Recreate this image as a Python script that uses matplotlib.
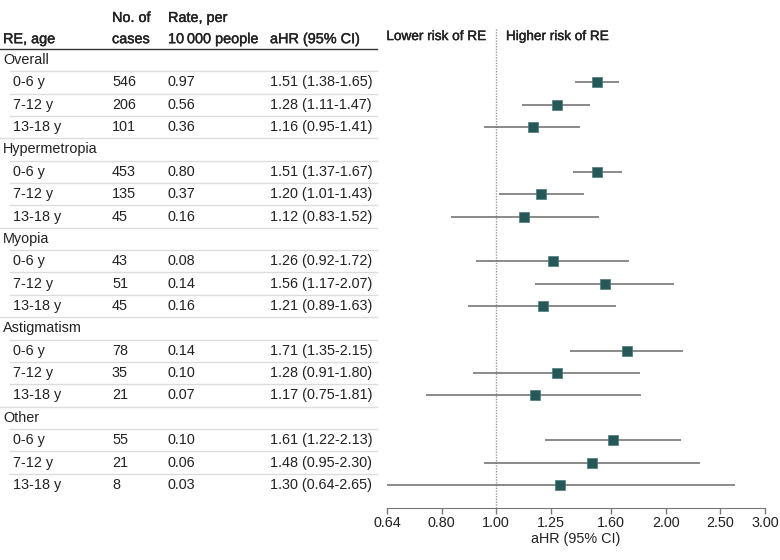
import matplotlib
matplotlib.use('Agg')
import matplotlib.pyplot as plt
import matplotlib.transforms as mtransforms
import matplotlib.patheffects as pe

plt.rcParams['font.family'] = ['Liberation Sans Narrow', 'Liberation Sans', 'DejaVu Sans']
plt.rcParams['font.size'] = 10.4

# groups and age bands
groups = ['Overall', 'Hypermetropia', 'Myopia', 'Astigmatism', 'Other']
ages = ['0-6 y', '7-12 y', '13-18 y']

cases = [[546, 206, 101],
         [453, 135, 45],
         [43, 51, 45],
         [78, 35, 21],
         [55, 21, 8]]
rates = [['0.97', '0.56', '0.36'],
         ['0.80', '0.37', '0.16'],
         ['0.08', '0.14', '0.16'],
         ['0.14', '0.10', '0.07'],
         ['0.10', '0.06', '0.03']]
ahr = [[1.51, 1.28, 1.16],
       [1.51, 1.20, 1.12],
       [1.26, 1.56, 1.21],
       [1.71, 1.28, 1.17],
       [1.61, 1.48, 1.30]]
ci_low = [[1.38, 1.11, 0.95],
          [1.37, 1.01, 0.83],
          [0.92, 1.17, 0.89],
          [1.35, 0.91, 0.75],
          [1.22, 0.95, 0.64]]
ci_high = [[1.65, 1.47, 1.41],
           [1.67, 1.43, 1.52],
           [1.72, 2.07, 1.63],
           [2.15, 1.80, 1.81],
           [2.13, 2.30, 2.65]]

xticks = [0.64, 0.80, 1.00, 1.25, 1.60, 2.00, 2.50, 3.00]

W, H = 780, 560
fig = plt.figure(figsize=(W / 100, H / 100), dpi=100)
ax = fig.add_axes([387 / W, 1 - 508 / H, (765 - 387) / W, (508 - 28) / H])

trans = mtransforms.blended_transform_factory(fig.transFigure, ax.transData)

def fx(px):
    return px / W

sq_color = '#255856'
line_color = '#6b6b6b'
sep_color = '#dcdcdc'
semi = [pe.withStroke(linewidth=0.3, foreground='#222222')]

row = 0
n_rows = len(groups) * 4
group_rows = []
for g, name in enumerate(groups):
    group_rows.append(row)
    ax.text(fx(3), row, name, transform=trans, va='center', ha='left', color='#222222')
    row += 1
    for a, age in enumerate(ages):
        ax.text(fx(13), row, age, transform=trans, va='center', ha='left', color='#222222')
        ax.text(fx(112), row, str(cases[g][a]), transform=trans, va='center', ha='left', color='#222222')
        ax.text(fx(168), row, rates[g][a], transform=trans, va='center', ha='left', color='#222222')
        label = f"{ahr[g][a]:.2f} ({ci_low[g][a]:.2f}-{ci_high[g][a]:.2f})"
        ax.text(fx(270), row, label, transform=trans, va='center', ha='left', color='#222222')
        ax.plot([ci_low[g][a], ci_high[g][a]], [row, row], color=line_color, lw=1.1,
                solid_capstyle='butt', zorder=2)
        ax.plot(ahr[g][a], row, marker='s', ms=7.5, color=sq_color,
                mec='#4d7d7b', mew=0.5, zorder=3)
        row += 1

# row separators (full width before a group label, indented otherwise)
for i in range(n_rows - 1):
    x0 = 0 if (i + 1) in group_rows else 10
    ax.plot([fx(x0), fx(377)], [i + 0.5, i + 0.5], transform=trans, color=sep_color,
            lw=1, clip_on=False, zorder=1)
# header rule
ax.plot([fx(0), fx(377)], [-0.5, -0.5], transform=trans, color='#333333',
        lw=1, clip_on=False, zorder=1)

# headers
h2 = -0.93
h1 = -1.88
hkw = dict(transform=trans, va='center', ha='left', fontsize=10.4, color='#222222',
           path_effects=semi)
ax.text(fx(3), h2, 'RE, age', **hkw)
ax.text(fx(112), h1, 'No. of', **hkw)
ax.text(fx(112), h2, 'cases', **hkw)
ax.text(fx(168), h1, 'Rate, per', **hkw)
ax.text(fx(168), h2, '10\u2009000 people', **hkw)
ax.text(fx(270), h2, 'aHR (95% CI)', **hkw)

ax.annotate('Lower risk of RE', xy=(1.0, -1.07), xytext=(-7, 0), fontsize=9.8,
            textcoords='offset points', ha='right', va='center', color='#222222',
            path_effects=semi)
ax.annotate('Higher risk of RE', xy=(1.0, -1.07), xytext=(7, 0), fontsize=9.8,
            textcoords='offset points', ha='left', va='center', color='#222222',
            path_effects=semi)

ax.axvline(1.0, color='#9a9a9a', lw=1, ls=(0, (1, 1)), zorder=1)

ax.set_xscale('log')
ax.set_xlim(0.64, 3.0)
ax.set_ylim(n_rows + 0.03, -1.43)
ax.set_xticks(xticks)
ax.set_xticklabels([f"{t:.2f}" for t in xticks])
ax.minorticks_off()
ax.set_yticks([])
for s in ['top', 'right', 'left']:
    ax.spines[s].set_visible(False)
ax.spines['bottom'].set_color('#777777')
ax.tick_params(axis='x', colors='#777777', labelcolor='#222222', length=4, width=1, pad=2)
ax.set_xlabel('aHR (95% CI)', labelpad=1, color='#222222')

fig.savefig('out.png', dpi=100)
